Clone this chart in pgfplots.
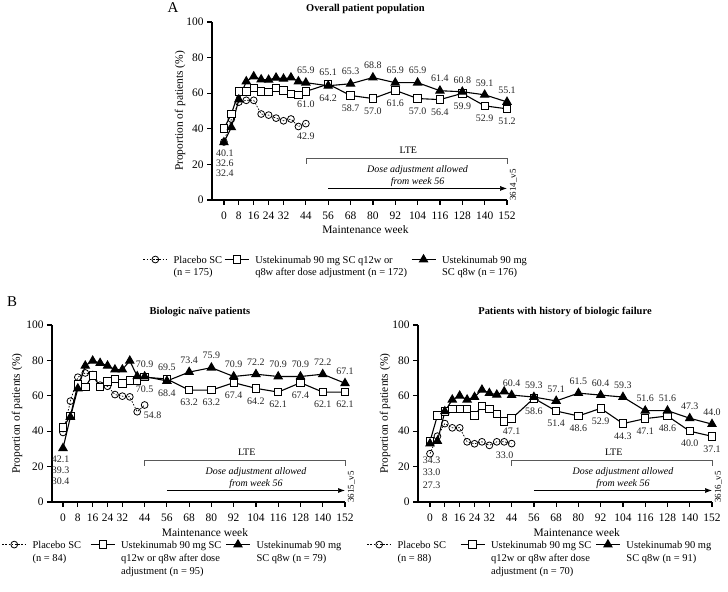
\documentclass[border=0pt]{standalone}
\usepackage{fontspec}
\setmainfont{Liberation Serif}
\usepackage{pgfplots}
\pgfplotsset{compat=1.18}
\usetikzlibrary{arrows.meta}

\tikzset{lbl/.style={font=\fontsize{10}{12}\selectfont, text=black!85},
         ttl/.style={font=\bfseries\fontsize{10.5}{13}\selectfont, anchor=center}}
% value labels above / below a point
\newcommand{\up}[2]{\node[lbl, yshift=12bp] at (axis cs:#1,#2) {#2};}
\newcommand{\dn}[2]{\node[lbl, yshift=-12.5bp] at (axis cs:#1,#2) {#2};}
\newcommand{\annot}[1]{%
  \draw[line width=0.6bp, black!65] (axis cs:44,20.5) -- (axis cs:44,23.3) -- (axis cs:152,23.3) -- (axis cs:152,20.5);
  \node[font=\fontsize{10}{12}\selectfont] at (axis cs:99,28) {LTE};
  \node[font=\fontsize{10}{12}\selectfont\itshape, align=center] at (axis cs:104,13.6) {Dose adjustment allowed\\from week 56};
  \draw[line width=0.7bp, -{Latex[length=7bp,width=5bp]}] (axis cs:56,6.5) -- (axis cs:152,6.5);
  \node[rotate=90, font=\fontsize{9}{10}\selectfont] at (axis cs:155.5,8.5) {#1};}

\pgfplotsset{
  panel/.style={
    scale only axis, clip=false,
    ymin=0, ymax=100, xmax=152,
    axis lines*=left,
    axis line style={line width=1.6bp, -},
    tick style={line width=1.2bp, black},
    major tick length=5bp,
    tick align=outside,
    ytick={0,20,40,60,80,100},
    xtick={0,8,16,24,32,44,56,68,80,92,104,116,128,140,152},
    ticklabel style={font=\fontsize{11.5}{13}\selectfont},
    xticklabel style={yshift=-3bp},
    /pgf/number format/assume math mode=true,
    xlabel={Maintenance week},
    ylabel={Proportion of patients (\%)},
    label style={font=\fontsize{11.5}{13}\selectfont, anchor=center},
    legend columns=3,
    legend style={draw=none, fill=none, inner sep=0pt, outer sep=0pt, anchor=north west,
      font=\fontsize{10.5}{13}\selectfont, cells={anchor=base west},
      /tikz/column 1/.style={column sep=4bp},
      /tikz/column 3/.style={column sep=4bp},
      /tikz/column 5/.style={column sep=4bp}},
    legend image code/.code={\draw[mark repeat=2,mark phase=2] plot coordinates {(0bp,3.5bp) (12bp,3.5bp) (24bp,3.5bp)};},
  },
  plc/.style={black, line width=0.7bp, dash pattern=on 1.6bp off 1.6bp, mark=o, mark size=3.4bp,
    mark options={solid, fill=white, line width=0.8bp}},
  sq/.style={black, line width=1.1bp, mark=square*, mark size=3.7bp, mark options={solid, fill=white, line width=0.9bp}},
  tri/.style={black, line width=1.1bp, mark=triangle*, mark size=4.6bp, mark options={solid, fill=black}},
}

\begin{document}
\begin{tikzpicture}
\useasboundingbox (0,0) rectangle (728bp,592bp);
\node[font=\fontsize{15}{17}\selectfont] at (173bp,584bp) {A};
\node[font=\fontsize{15}{17}\selectfont] at (12bp,290bp) {B};

% ---------- A: overall population
\begin{axis}[panel, at={(212bp,392bp)}, anchor=south west, width=295bp, height=178bp, xmin=-6.4,
  xlabel style={at={(axis description cs:0.52,-0.169)}},
  ylabel style={at={(axis description cs:-0.108,0.5)}},
  legend style={at={(axis description cs:-0.234,-0.292)},
    /tikz/column 2/.style={column sep=0bp}, /tikz/column 4/.style={column sep=2bp}}]
\addplot[plc] coordinates {(0,32.6)(4,45.5)(8,55)(12,56)(16,56)(20,48.3)(24,47.7)(28,46)(32,44.5)(36,45.5)(40,41.3)(44,42.9)};
\addlegendentry{\begin{tabular}[t]{@{}l@{}}Placebo SC\\(n = 175)\end{tabular}}
\addplot[sq] coordinates {(0,40.1)(4,48.3)(8,61)(12,61)(16,63)(20,61)(24,60.6)(28,63)(32,61.5)(36,59.6)(40,59)(44,61.0)
  (56,65.1)(68,58.7)(80,57.0)(92,61.6)(104,57.0)(116,56.4)(128,59.9)(140,52.9)(152,51.2)};
\addlegendentry{\begin{tabular}[t]{@{}l@{}}Ustekinumab 90 mg SC q12w or\\q8w after dose adjustment (n = 172)\end{tabular}}
\addplot[tri] coordinates {(0,32.4)(4,40.8)(8,56.4)(12,66.6)(16,69.4)(20,67.7)(24,67.5)(28,68.7)(32,68.1)(36,68.8)(40,66.6)(44,65.9)
  (56,64.2)(68,65.3)(80,68.8)(92,65.9)(104,65.9)(116,61.4)(128,60.8)(140,59.1)(152,55.1)};
\addlegendentry{\begin{tabular}[t]{@{}l@{}}Ustekinumab 90 mg\\SC q8w (n = 176)\end{tabular}}
\node[ttl] at (axis description cs:0.52,1.073) {Overall patient population};
\up{44}{65.9}\up{56}{65.1}\up{68}{65.3}\up{80}{68.8}\up{92}{65.9}\up{104}{65.9}\up{116}{61.4}\up{128}{60.8}\up{140}{59.1}\up{152}{55.1}
\dn{44}{61.0}\dn{56}{64.2}\dn{68}{58.7}\dn{80}{57.0}\dn{92}{61.6}\dn{104}{57.0}\dn{116}{56.4}\dn{128}{59.9}\dn{140}{52.9}\dn{152}{51.2}
\dn{44}{42.9}
\node[lbl] at (axis cs:0.5,26.2) {40.1};
\node[lbl] at (axis cs:0.5,20.6) {32.6};
\node[lbl] at (axis cs:0.5,15.0) {32.4};
\annot{3614\_v5}
\end{axis}

% ---------- B left: biologic naive
\begin{axis}[panel, at={(52bp,90bp)}, anchor=south west, width=293bp, height=177bp, xmin=-5.93,
  xlabel style={at={(axis description cs:0.522,-0.175)}},
  ylabel style={at={(axis description cs:-0.119,0.5)}},
  legend style={at={(axis description cs:-0.171,-0.198)},
    /tikz/column 2/.style={column sep=7bp}, /tikz/column 4/.style={column sep=2bp}}]
\addplot[plc] coordinates {(0,39.3)(4,57)(8,70.5)(12,72.9)(16,72)(20,66)(24,65.4)(28,60.7)(32,59.8)(36,59.4)(40,51)(44,54.8)};
\addlegendentry{\begin{tabular}[t]{@{}l@{}}Placebo SC\\(n = 84)\end{tabular}}
\addplot[sq] coordinates {(0,42.1)(4,48.6)(8,66.4)(12,65)(16,71.6)(20,65)(24,68.2)(28,69.5)(32,66.9)(36,68.6)(40,68.6)(44,70.5)
  (56,69.5)(68,63.2)(80,63.2)(92,67.4)(104,64.2)(116,62.1)(128,67.4)(140,62.1)(152,62.1)};
\addlegendentry{\begin{tabular}[t]{@{}l@{}}Ustekinumab 90 mg SC\\q12w or q8w after dose\\adjustment (n = 95)\end{tabular}}
\addplot[tri] coordinates {(0,30.4)(4,48)(8,64.1)(12,77)(16,79.8)(20,78.5)(24,77)(28,74.8)(32,74.8)(36,79.8)(40,71)(44,70.9)
  (56,68.4)(68,73.4)(80,75.9)(92,70.9)(104,72.2)(116,70.9)(128,70.9)(140,72.2)(152,67.1)};
\addlegendentry{\begin{tabular}[t]{@{}l@{}}Ustekinumab 90 mg\\SC q8w (n = 79)\end{tabular}}
\node[ttl] at (axis description cs:0.505,1.073) {Biologic naïve patients};
\up{44}{70.9}\up{56}{69.5}\up{68}{73.4}\up{80}{75.9}\up{92}{70.9}\up{104}{72.2}\up{116}{70.9}\up{128}{70.9}\up{140}{72.2}\up{152}{67.1}
\dn{44}{70.5}\dn{56}{68.4}\dn{68}{63.2}\dn{80}{63.2}\dn{92}{67.4}\dn{104}{64.2}\dn{116}{62.1}\dn{128}{67.4}\dn{140}{62.1}\dn{152}{62.1}
\node[lbl, xshift=8bp, yshift=-10bp] at (axis cs:44,54.8) {54.8};
\node[lbl] at (axis cs:-1.3,24.3) {42.1};
\node[lbl] at (axis cs:-1.3,18.1) {39.3};
\node[lbl] at (axis cs:-1.3,12.0) {30.4};
\annot{3615\_v5}
\end{axis}

% ---------- B right: history of biologic failure
\begin{axis}[panel, at={(418bp,90bp)}, anchor=south west, width=294bp, height=177bp, xmin=-6.47,
  xlabel style={at={(axis description cs:0.54,-0.175)}},
  ylabel style={at={(axis description cs:-0.112,0.5)}},
  legend style={at={(axis description cs:-0.174,-0.198)},
    /tikz/column 2/.style={column sep=12bp}, /tikz/column 4/.style={column sep=2bp}}]
\addplot[plc] coordinates {(0,27.3)(4,37.2)(8,44.3)(12,41.9)(16,41.9)(20,34)(24,32.9)(28,34)(32,32)(36,34)(40,34)(44,33.0)};
\addlegendentry{\begin{tabular}[t]{@{}l@{}}Placebo SC\\(n = 88)\end{tabular}}
\addplot[sq] coordinates {(0,34.3)(4,48.8)(8,51.2)(12,52.7)(16,52.7)(20,52.7)(24,48.8)(28,54.4)(32,52.7)(36,49.9)(40,45.6)(44,47.1)
  (56,58.6)(68,51.4)(80,48.6)(92,52.9)(104,44.3)(116,47.1)(128,48.6)(140,40.0)(152,37.1)};
\addlegendentry{\begin{tabular}[t]{@{}l@{}}Ustekinumab 90 mg SC\\q12w or q8w after dose\\adjustment (n = 70)\end{tabular}}
\addplot[tri] coordinates {(0,33.0)(4,34.4)(8,51.2)(12,57.8)(16,60)(20,57.8)(24,59.3)(28,63.4)(32,61.5)(36,60.6)(40,62.4)(44,60.4)
  (56,59.3)(68,57.1)(80,61.5)(92,60.4)(104,59.3)(116,51.6)(128,51.6)(140,47.3)(152,44.0)};
\addlegendentry{\begin{tabular}[t]{@{}l@{}}Ustekinumab 90 mg\\SC q8w (n = 91)\end{tabular}}
\node[ttl] at (axis description cs:0.5,1.073) {Patients with history of biologic failure};
\up{44}{60.4}\up{56}{59.3}\up{68}{57.1}\up{80}{61.5}\up{92}{60.4}\up{104}{59.3}\up{116}{51.6}\up{128}{51.6}\up{140}{47.3}\up{152}{44.0}
\dn{44}{47.1}\dn{56}{58.6}\dn{68}{51.4}\dn{80}{48.6}\dn{92}{52.9}\dn{104}{44.3}\dn{116}{47.1}\dn{128}{48.6}\dn{140}{40.0}\dn{152}{37.1}
\node[lbl, xshift=-7bp, yshift=-12bp] at (axis cs:44,33.0) {33.0};
\node[lbl] at (axis cs:0.9,23.3) {34.3};
\node[lbl] at (axis cs:0.9,16.6) {33.0};
\node[lbl] at (axis cs:0.9,9.6) {27.3};
\annot{3616\_v5}
\end{axis}
\end{tikzpicture}
\end{document}
